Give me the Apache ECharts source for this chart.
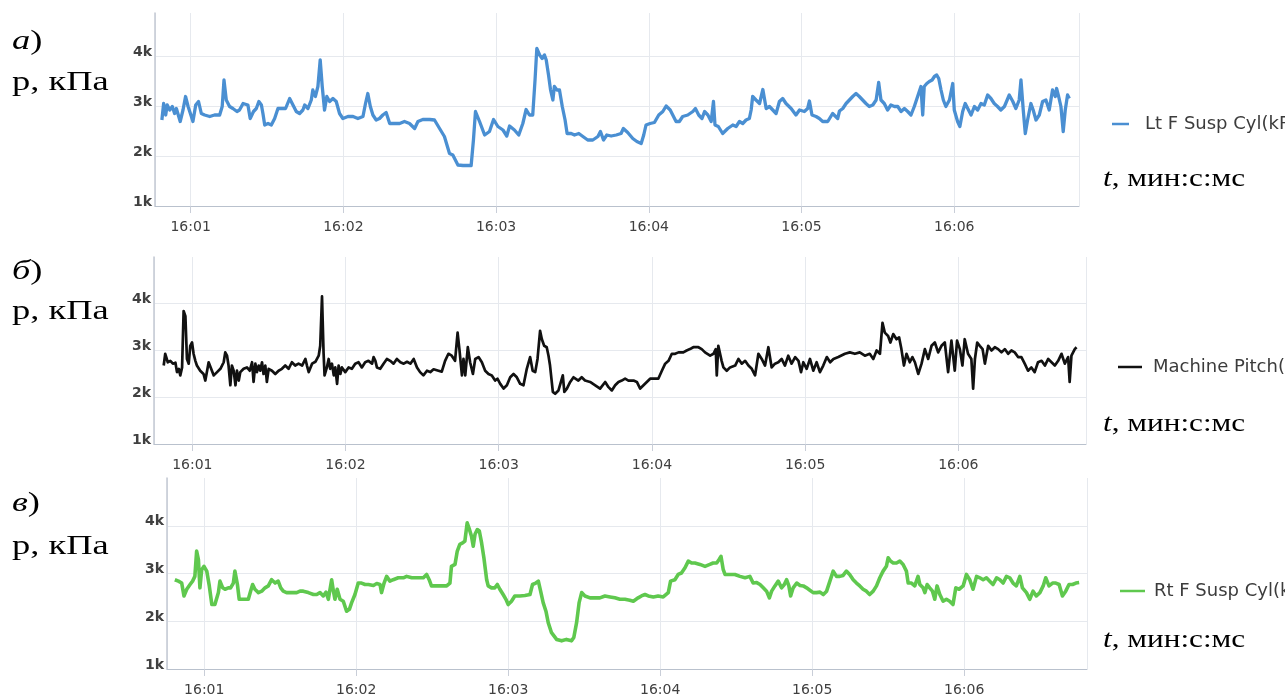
<!DOCTYPE html>
<html>
<head>
<meta charset="utf-8">
<script src="https://cdn.jsdelivr.net/npm/echarts@6/dist/echarts.min.js"></script>
<style>
html,body{margin:0;padding:0;background:#fff;}
#chart{width:1285px;height:697px;}
</style>
</head>
<body>
<div id="chart"></div>
<script>
// time in seconds after 16:00:00, pressure in kPa
const tA = [48.7,49.4,50.2,50.8,51.8,52.8,53.7,54.4,55.0,55.9,57.0,58.0,59.0,59.9,60.9,62.0,63.1,64.2,65.5,67.5,69.4,71.4,72.4,73.1,74.0,75.3,76.6,78.2,79.2,80.6,82.5,83.4,84.7,85.8,86.8,87.8,88.4,89.1,90.4,91.7,93.0,94.3,96.0,97.3,98.9,100.2,101.5,102.8,104.1,104.8,106.1,107.4,108.0,109.0,110.0,110.9,111.7,112.6,113.5,114.6,115.9,117.2,118.5,119.8,121.8,123.8,125.7,127.7,128.7,129.6,130.6,131.6,132.9,134.2,135.5,136.8,138.2,140.1,142.1,144.0,146.0,148.0,149.3,151.2,153.9,155.8,157.8,159.7,161.7,163.0,165.0,167.0,170.2,171.1,171.9,173.5,175.5,177.4,179.0,180.7,182.7,184.2,185.3,187.2,188.9,190.5,191.8,193.1,194.4,195.3,196.0,197.1,198.1,199.0,199.7,200.6,201.4,202.3,202.9,203.9,204.9,206.0,207.1,207.9,209.5,210.8,212.5,214.1,216.0,218.0,220.0,221.0,222.2,223.5,225.2,227.2,229.1,230.0,231.7,233.7,235.3,237.0,238.0,238.9,240.5,242.2,243.9,245.5,246.8,248.4,249.4,250.7,252.0,253.3,255.3,257.3,258.3,259.6,260.9,261.9,263.2,264.5,265.4,266.0,267.3,269.0,271.0,273.0,274.3,275.6,276.9,278.2,279.5,280.2,280.8,282.1,283.5,284.8,286.1,287.4,288.7,290.0,291.3,292.6,293.9,295.9,297.8,299.2,301.1,302.4,303.1,304.1,305.7,307.0,308.3,310.3,312.2,314.2,314.9,316.2,317.5,318.8,320.1,321.4,322.7,324.0,325.3,326.6,328.0,329.3,330.3,331.2,332.5,333.8,335.1,336.5,337.8,339.1,340.4,341.7,343.0,344.3,345.6,346.9,347.6,348.2,349.2,350.2,351.3,352.2,353.1,353.9,354.8,355.7,356.7,358.1,359.4,360.0,361.3,362.2,363.3,364.3,365.3,366.6,367.9,369.2,370.5,371.8,373.1,374.4,375.7,377.0,378.3,379.7,381.6,383.0,384.2,385.5,386.2,387.1,387.9,388.8,390.1,391.0,392.1,393.4,394.7,396.0,397.3,398.6,399.7,400.2,401.0,401.9,402.8,403.6,404.5,405.2];
const pA = [2720,3050,2820,3020,2920,2990,2850,2950,2990,2690,2920,3190,2990,2850,2690,3020,3090,2850,2820,2790,2820,2820,2990,3520,3120,2990,2950,2890,2920,3050,3020,2750,2890,2950,3090,3020,2850,2620,2650,2620,2750,2950,2950,2950,3150,3020,2890,2850,2920,3020,2950,3120,3320,3190,3390,3920,3390,2920,3190,3090,3150,3090,2850,2750,2790,2790,2750,2790,3050,3250,2990,2820,2720,2750,2820,2870,2650,2650,2650,2690,2650,2550,2690,2730,2730,2720,2550,2390,2050,2020,1820,1810,1810,2320,2890,2690,2420,2490,2730,2590,2520,2400,2600,2520,2420,2650,2930,2820,2820,3520,4150,4020,3950,4020,3920,3620,3320,3120,3390,3320,3320,2990,2720,2450,2450,2420,2450,2390,2320,2320,2390,2490,2320,2420,2400,2420,2450,2550,2470,2350,2290,2250,2420,2620,2650,2670,2820,2890,3000,2920,2820,2690,2690,2790,2820,2890,2950,2820,2750,2890,2820,2690,3090,2620,2590,2450,2550,2620,2590,2690,2650,2720,2750,2920,3190,3120,3050,3330,2950,2990,2920,2850,3090,3150,3050,2950,2820,2920,2890,2950,3100,2820,2790,2750,2690,2690,2850,2750,2900,2950,3050,3120,3190,3250,3190,3120,3050,2990,3020,3120,3470,3120,3050,2920,3020,2990,2990,2890,2950,2890,2820,2990,3190,3390,2820,3390,3450,3490,3520,3590,3620,3550,3320,3120,2990,3120,3450,2920,2690,2590,2890,3050,2950,2820,2990,2920,3050,3020,3220,3150,3050,2990,2920,2990,3220,3090,2950,3120,3520,2920,2450,2720,3050,2920,2720,2820,3090,3120,2920,3320,3190,3350,3190,2990,2490,2920,3220,3150];

const tB = [48.8,49.4,50.4,51.4,52.4,53.4,54.0,54.7,55.3,56.0,56.6,57.3,57.9,58.6,59.2,59.9,60.5,61.2,61.8,63.1,64.4,65.1,65.8,66.4,67.1,68.4,69.7,71.0,72.3,72.9,73.6,74.2,74.9,75.5,76.2,76.9,77.5,78.2,78.8,80.1,81.4,82.5,83.4,84.0,84.7,85.3,86.0,86.6,87.3,87.9,88.6,89.2,89.9,91.2,92.5,93.8,95.1,96.4,97.7,99.0,100.3,101.6,103.0,104.3,104.9,105.6,106.9,108.2,109.5,110.1,110.8,111.4,111.8,112.7,113.4,114.0,114.7,115.4,116.0,116.7,117.3,118.0,118.6,119.9,121.2,122.5,123.8,125.1,126.4,127.7,129.0,130.4,131.0,131.7,132.3,133.6,134.9,136.2,137.5,138.8,140.1,141.5,142.8,144.1,145.4,146.7,148.0,149.2,150.5,151.9,153.2,154.5,156.4,157.7,159.0,160.3,161.6,162.9,163.9,164.6,165.6,166.2,166.9,167.9,168.8,169.9,170.8,172.1,173.4,174.7,176.0,177.3,178.6,179.5,180.6,181.9,183.2,184.5,185.8,187.1,188.4,189.7,191.0,192.3,193.3,194.3,195.2,196.2,196.9,197.8,198.8,199.5,200.1,201.2,202.1,203.4,204.1,205.1,205.7,206.7,208.0,209.3,211.2,212.5,213.8,215.8,217.8,219.7,221.7,223.0,224.3,225.6,226.9,228.2,229.5,230.8,232.8,234.1,235.4,236.7,238.0,239.3,240.6,242.5,243.9,245.2,246.5,247.8,249.1,250.4,252.3,253.6,254.9,256.2,258.2,259.5,260.8,262.8,264.1,265.0,265.4,266.0,266.7,267.3,268.0,269.3,270.6,272.6,273.9,275.2,276.5,277.8,279.1,280.4,281.7,283.0,284.3,285.6,286.9,288.2,289.5,290.8,292.1,293.4,294.7,296.1,297.4,298.4,299.3,300.6,301.9,303.2,304.5,305.8,307.1,308.5,309.8,311.1,313.0,315.6,317.5,319.5,321.4,323.4,325.3,326.7,328.0,329.3,330.3,331.2,332.5,333.4,334.5,335.8,336.8,337.7,338.7,339.7,341.0,342.0,343.0,344.3,345.6,346.9,348.2,349.5,350.8,352.1,353.4,354.7,356.0,357.3,358.6,359.5,360.6,361.6,362.5,363.8,365.1,365.8,366.5,367.4,368.4,369.5,370.4,371.7,373.0,374.3,375.6,376.9,378.2,379.5,380.8,382.1,383.4,384.7,386.0,387.3,388.6,389.9,391.2,392.6,393.9,395.2,396.5,397.8,399.1,400.4,401.7,403.0,403.6,404.3,404.9,405.6,406.3];
const pB = [2670,2920,2740,2770,2710,2730,2530,2600,2460,2630,3830,3720,2810,2710,3090,3160,2920,2770,2670,2560,2490,2350,2560,2740,2770,2460,2530,2600,2740,2950,2880,2670,2250,2670,2560,2250,2560,2350,2530,2600,2630,2560,2740,2320,2710,2530,2670,2560,2740,2490,2670,2320,2600,2560,2490,2560,2600,2670,2600,2740,2670,2710,2670,2810,2670,2530,2710,2750,2880,3090,4140,2950,2460,2630,2810,2600,2710,2460,2630,2280,2670,2490,2630,2530,2630,2600,2710,2740,2630,2740,2770,2710,2850,2770,2630,2600,2710,2810,2770,2710,2810,2740,2710,2750,2710,2810,2630,2530,2460,2560,2530,2590,2560,2540,2770,2920,2880,2770,3370,3020,2460,2810,2460,3060,2740,2490,2810,2850,2740,2560,2490,2460,2350,2390,2280,2180,2250,2420,2490,2420,2280,2250,2600,2850,2560,2530,2810,3410,3230,3090,3060,2880,2670,2110,2070,2140,2110,2460,2110,2180,2320,2420,2350,2420,2350,2320,2250,2180,2320,2210,2140,2250,2320,2350,2390,2350,2350,2320,2180,2250,2320,2390,2390,2390,2560,2710,2770,2920,2920,2950,2950,2990,3020,3060,3060,3020,2950,2880,2920,3020,2460,3090,3060,2770,2630,2560,2630,2670,2810,2710,2770,2670,2600,2460,2920,2810,2670,3060,2630,2710,2740,2810,2670,2880,2710,2850,2770,2530,2740,2600,2810,2560,2740,2530,2670,2850,2740,2810,2850,2920,2950,2920,2950,2880,2920,2810,2990,2920,3580,3370,3300,3160,3340,3230,3270,3020,2670,2920,2740,2850,2740,2490,2710,3020,2810,3090,3160,2950,3090,3160,2530,3200,2560,3200,3020,2670,3230,2920,2810,2180,2810,3160,3090,3020,2710,3090,2990,3060,3020,2950,3020,2920,2990,2950,2850,2850,2710,2560,2630,2530,2740,2770,2670,2810,2740,2670,2770,2920,2710,2850,2320,2880,2920,3020,3060];

const tC = [48.4,49.8,51.1,52.0,53.1,54.4,55.4,56.3,57.0,57.7,58.3,59.0,59.9,61.0,62.0,63.0,64.2,65.6,66.2,67.3,68.2,69.5,70.4,71.5,72.1,73.1,73.8,75.4,77.4,78.3,79.1,80.0,81.4,82.7,84.0,85.3,86.6,88.0,89.2,90.2,91.2,92.5,94.5,96.5,97.8,99.1,101.1,103.1,104.4,105.7,107.0,108.1,109.0,109.6,110.3,111.0,111.6,112.5,113.6,114.9,116.2,117.3,118.2,119.5,120.8,122.1,123.5,124.8,126.8,128.1,129.4,130.0,131.0,132.0,133.3,134.6,136.6,138.6,139.9,141.9,143.9,145.1,146.5,147.8,148.8,149.7,151.7,153.7,155.7,157.0,157.6,159.0,159.9,160.9,162.0,162.9,163.8,164.6,165.5,166.2,166.9,167.8,168.6,169.5,170.4,171.5,172.1,173.4,174.7,175.7,176.7,178.0,179.1,180.0,181.3,182.6,184.6,186.6,188.6,189.6,190.9,191.9,192.8,193.8,194.9,195.8,197.1,199.1,201.1,203.0,205.0,205.9,207.0,208.0,209.0,210.3,212.3,214.2,216.2,218.2,220.2,222.1,224.1,226.1,228.0,229.4,231.3,232.6,234.0,235.3,237.3,239.2,241.2,243.2,244.1,245.8,247.1,248.4,249.8,251.1,252.4,253.7,255.7,257.7,259.6,260.9,262.3,263.2,264.0,264.9,265.6,267.5,269.5,271.5,273.5,275.4,276.7,278.1,279.4,280.7,282.0,283.1,284.0,285.3,286.6,287.9,289.0,289.9,290.8,291.5,292.5,293.9,295.2,296.5,297.8,299.1,300.4,301.7,303.1,304.4,305.7,307.0,308.3,309.6,310.9,312.2,313.5,314.8,316.2,317.5,318.8,320.1,321.4,322.7,324.1,325.4,326.7,328.0,329.3,330.0,330.9,332.0,333.3,334.6,335.9,337.2,337.9,339.2,340.5,341.8,342.5,343.8,344.5,345.4,346.4,347.5,348.4,349.3,350.4,351.7,353.0,354.3,355.6,356.7,358.0,359.6,360.9,362.2,363.5,364.9,366.2,367.5,368.8,370.1,371.4,372.8,374.1,375.4,376.7,378.0,379.3,380.6,382.0,383.0,384.6,385.9,387.2,388.5,389.9,391.2,392.2,393.5,394.9,396.2,397.5,398.8,400.1,401.4,402.8,404.1,405.4];
const pC = [2870,2840,2800,2530,2670,2770,2840,2940,3470,3290,2700,3080,3150,3050,2740,2350,2350,2600,2840,2700,2670,2700,2700,2800,3050,2770,2460,2460,2460,2630,2770,2670,2600,2630,2700,2740,2870,2800,2840,2700,2630,2600,2600,2600,2630,2630,2600,2560,2560,2600,2530,2610,2460,2500,2870,2630,2460,2670,2460,2420,2210,2250,2390,2560,2800,2800,2770,2770,2750,2790,2770,2600,2800,2940,2840,2870,2910,2910,2940,2910,2910,2910,2910,2980,2870,2740,2740,2740,2740,2800,3150,3190,3470,3610,3640,3680,4060,3940,3780,3570,3820,3920,3890,3640,3330,2870,2740,2700,2700,2770,2670,2560,2460,2350,2420,2530,2530,2540,2560,2770,2800,2840,2630,2390,2210,1970,1760,1620,1590,1620,1590,1660,1970,2390,2600,2530,2490,2490,2490,2530,2510,2490,2460,2460,2440,2420,2490,2530,2560,2530,2510,2530,2510,2600,2840,2870,2980,3010,3120,3260,3220,3220,3190,3150,3190,3220,3220,3290,3360,3080,2980,2980,2980,2940,2910,2940,2800,2810,2770,2700,2630,2490,2630,2740,2840,2700,2770,2870,2740,2530,2700,2800,2750,2740,2700,2650,2600,2600,2610,2560,2630,2840,3050,2940,2940,2960,3050,2980,2870,2800,2740,2670,2630,2560,2630,2740,2910,3050,3150,3330,3260,3220,3220,3260,3190,3050,2800,2800,2740,2940,2770,2700,2600,2770,2700,2630,2460,2740,2560,2420,2460,2420,2350,2700,2670,2740,2980,2870,2670,2940,2910,2870,2910,2840,2770,2910,2870,2800,2940,2910,2800,2740,2940,2700,2600,2460,2630,2530,2600,2740,2910,2740,2800,2800,2770,2530,2630,2770,2770,2800,2810];

const seriesNames = ['Lt F Susp Cyl(kPa)', 'Machine Pitch(deg)', 'Rt F Susp Cyl(kPa)'];
const yTicks = [1000, 2000, 3000, 4000];

const base = new Date(2024, 0, 1, 16, 0, 0).getTime();
const toPairs = (t, p) => t.map((s, i) => [base + s * 1000, p[i]]);

const panels = [
  {left:155, top:13, width:924, height:193, xmin:46, xmax:409, ymax:4860, color:'#4a8fd2', lw:3.3, data:toPairs(tA,pA),
   lg:{left:1112, top:115, iw:17, pad:11}},
  {left:154, top:257, width:932, height:187, xmin:45, xmax:410, ymax:4980, color:'#111111', lw:2.7, data:toPairs(tB,pB),
   lg:{left:1118, top:358, iw:24, pad:6}},
  {left:167, top:478, width:920, height:191, xmin:45.3, xmax:408.5, ymax:5000, color:'#5fc84e', lw:3.6, data:toPairs(tC,pC),
   lg:{left:1120, top:582, iw:25, pad:4}}
];

const fmtTime = v => {
  const d = new Date(v);
  return String(d.getHours()).padStart(2,'0') + ':' + String(d.getMinutes()).padStart(2,'0');
};

const option = {
  backgroundColor: '#ffffff',
  animation: false,
  grid: panels.map(p => ({left:p.left, top:p.top, width:p.width, height:p.height, containLabel:false})),
  xAxis: panels.map((p, i) => ({
    type:'time', gridIndex:i,
    min: base + p.xmin*1000, max: base + p.xmax*1000,
    minInterval: 60000, maxInterval: 60000,
    axisLine:{show:true, lineStyle:{color:'#b9c1cd', width:1}},
    axisTick:{show:true, length:7, lineStyle:{color:'#c9ced8'}},
    splitLine:{show:true, lineStyle:{color:'#e6e9ee', width:1}},
    axisLabel:{formatter: fmtTime, color:'#404040', fontSize:14, fontFamily:'DejaVu Sans', margin:14, showMinLabel:false, showMaxLabel:false}
  })),
  yAxis: panels.map((p, i) => ({
    type:'value', gridIndex:i, min:yTicks[0], max:p.ymax, interval:1000,
    axisLine:{show:true, lineStyle:{color:'#c3c9d3', width:1.5}},
    axisTick:{show:false},
    splitLine:{show:true, showMinLine:false, showMaxLine:false, lineStyle:{color:'#e6e9ee', width:1}},
    axisLabel:{formatter: v => (yTicks.indexOf(v) >= 0 ? (v/1000) + 'k' : ''), color:'#404040', fontSize:14, fontWeight:'bold',
      fontFamily:'DejaVu Sans', margin:3, verticalAlign:'bottom', lineHeight:8, showMaxLabel:false}
  })),
  legend: panels.map((p, i) => ({
    data:[seriesNames[i]], left:p.lg.left, top:p.lg.top, orient:'horizontal', padding:0,
    icon:'rect', itemWidth:p.lg.iw, itemHeight:2.5, selectedMode:false,
    textStyle:{color:'#3c3c3c', fontSize:18, fontFamily:'DejaVu Sans', padding:[0,0,0,p.lg.pad]}
  })),
  series: panels.map((p, i) => ({
    name: seriesNames[i], type:'line', xAxisIndex:i, yAxisIndex:i,
    data: p.data, showSymbol:false, symbol:'none', smooth:false,
    lineStyle:{color:p.color, width:p.lw, join:'round'}, itemStyle:{color:p.color}
  })),
  graphic: [
    ...[[52,91],[282,320],[514,555]].map((yy, i) => ([
      {type:'text', left:12, top:yy[0]-24, scaleX:1.35,
        style:{text:'{i|' + ['а','б','в'][i] + '})', fill:'#000', font:'27px "Liberation Serif"',
          rich:{i:{fontStyle:'italic', fontFamily:'Liberation Serif', fontSize:27, fill:'#000'}}}},
      {type:'text', left:12, top:yy[1]-22, scaleX:1.35,
        style:{text:'р, кПа', fill:'#000', font:'27px "Liberation Serif"'}}
    ])).flat(),
    ...[187,432,648].map(yb => ({
      type:'text', left:1103, top:yb-21, scaleX:1.2,
      style:{text:'{i|t}, мин:с:мс', fill:'#000', font:'26px "Liberation Serif"',
        rich:{i:{fontStyle:'italic', fontFamily:'Liberation Serif', fontSize:26, fill:'#000'}}}
    }))
  ]
};

const chart = echarts.init(document.getElementById('chart'), null, {renderer:'canvas'});
chart.setOption(option);
</script>
</body>
</html>
